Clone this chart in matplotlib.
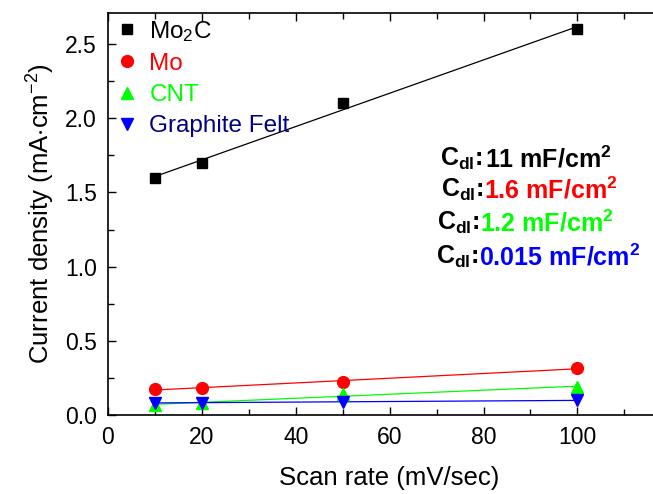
import numpy as np
import matplotlib
matplotlib.use("Agg")
import matplotlib.pyplot as plt
from matplotlib.ticker import MultipleLocator, FixedLocator, FormatStrFormatter

plt.rcParams['font.family'] = ['Liberation Sans', 'DejaVu Sans']
plt.rcParams['mathtext.fontset'] = 'custom'
plt.rcParams['mathtext.rm'] = 'Liberation Sans'
plt.rcParams['mathtext.it'] = 'Liberation Sans'
plt.rcParams['mathtext.bf'] = 'Liberation Sans:bold'

# Scan rates (mV/sec) and current densities (mA/cm^2)
scan_rate = [10, 20, 50, 100]
mo2c = [1.60, 1.70, 2.10, 2.60]
mo = [0.173, 0.184, 0.224, 0.315]
cnt = [0.067, 0.083, 0.139, 0.189]
graphite = [0.081, 0.083, 0.090, 0.098]

series_names = ['Mo$_2$C', 'Mo', 'CNT', 'Graphite Felt']
marker_colors = ['black', 'red', '#00ff00', 'blue']
line_colors = ['black', 'red', '#00ff00', 'blue']
text_colors = ['black', 'red', '#00ff00', '#000080']
markers = ['s', 'o', '^', 'v']
cdl_values = ['11', '1.6', '1.2', '0.015']
x_major_ticks = [0, 20, 40, 60, 80, 100]

fig = plt.figure(figsize=(6.53, 4.94), dpi=100)
ax = fig.add_axes([108/653, 1 - 415/494, 120*4.694/653, 402/494])

x = np.array(scan_rate, dtype=float)
handles = []
for ys, name, mc, lc, mk in zip([mo2c, mo, cnt, graphite], series_names,
                                marker_colors, line_colors, markers):
    ys = np.array(ys)
    k, b = np.polyfit(x, ys, 1)
    xf = np.array([x.min(), x.max()])
    ax.plot(xf, k * xf + b, color=lc, lw=0.9, zorder=2)
    ms = 7.5 if mk == 's' else 8.5
    h, = ax.plot(x, ys, linestyle='none', marker=mk, color=mc, ms=ms,
                 zorder=3, label=name)
    handles.append(h)

ax.set_xlim(0, 120)
ax.set_ylim(0, 2.709)
ax.xaxis.set_major_locator(FixedLocator(x_major_ticks))
ax.xaxis.set_minor_locator(MultipleLocator(10))
ax.yaxis.set_major_locator(MultipleLocator(0.5))
ax.yaxis.set_minor_locator(MultipleLocator(0.25))
ax.yaxis.set_major_formatter(FormatStrFormatter('%.1f'))
ax.tick_params(which='both', direction='in', top=True, right=False,
               labelsize=16.5, width=1.0, pad=8)
ax.tick_params(which='major', length=6)
ax.tick_params(which='minor', length=4)
for s in ax.spines.values():
    s.set_linewidth(1.2)

ax.set_xlabel('Scan rate (mV/sec)', fontsize=18.5, labelpad=12)
ax.set_ylabel('Current density (mA$\\cdot$cm$^{-2}$)', fontsize=18.5, labelpad=6)

leg = ax.legend(handles=handles, loc='upper left', frameon=False,
                fontsize=17.5, handlelength=0.8, handletextpad=0.5,
                labelspacing=0.38, borderaxespad=0.0,
                bbox_to_anchor=(0.0, 1.01))
for t, c in zip(leg.get_texts(), text_colors):
    t.set_color(c)

# Double-layer capacitance annotations
cdl_pos = [(440, 166), (441, 197), (437, 230), (436, 264)]
for i, (val, col, (px, py)) in enumerate(zip(cdl_values, marker_colors, cdl_pos)):
    sep = ': ' if i == 0 else ':'
    t1 = fig.text(px/653, 1 - py/494, '$\\mathbf{C_{dl}}$' + sep,
                  fontsize=18, fontweight='bold', color='black',
                  ha='left', va='baseline')
    ax.annotate(val + ' mF/cm$^\\mathbf{2}$', xy=(1, 0), xycoords=t1,
                va='bottom', ha='left', fontsize=18, fontweight='bold',
                color=col, annotation_clip=False)

fig.savefig('out.png', dpi=100)
